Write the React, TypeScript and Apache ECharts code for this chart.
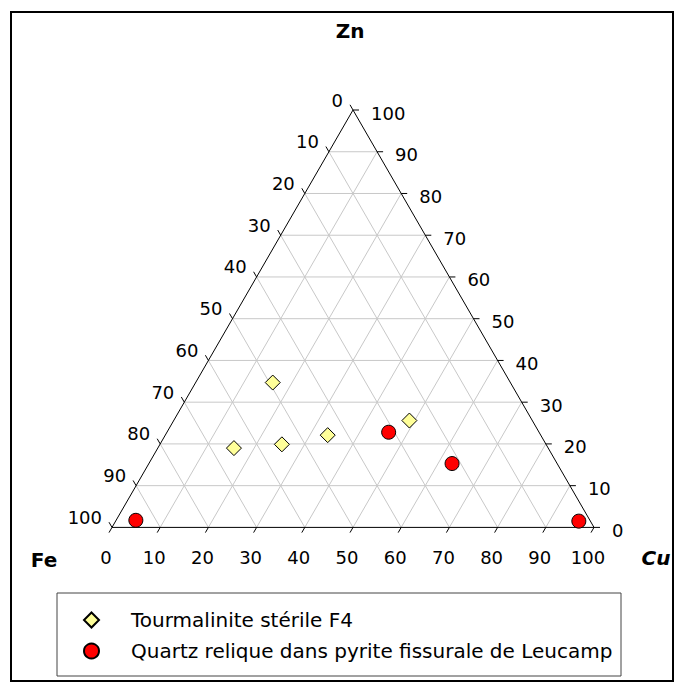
import React, { useEffect, useRef } from "react";
import * as echarts from "echarts";

// Tick values along every side (percent)
const TICK_VALUES = [0, 10, 20, 30, 40, 50, 60, 70, 80, 90, 100];
const GRID_VALUES = [10, 20, 30, 40, 50, 60, 70, 80, 90];

// Series 1: Tourmalinite stérile F4 (percent Fe, Cu, Zn)
const tourFe = [49.3, 65.2, 54.8, 44.2, 25.5];
const tourCu = [16.0, 15.8, 25.3, 33.7, 48.9];
const tourZn = [34.7, 19.0, 19.9, 22.1, 25.6];

// Series 2: Quartz relique dans pyrite fissurale de Leucamp
const quartzFe = [31.2, 21.8, 94.2, 2.4];
const quartzCu = [46.0, 62.9, 4.1, 96.1];
const quartzZn = [22.8, 15.3, 1.7, 1.5];

const SERIES_NAMES = [
  "Tourmalinite stérile F4",
  "Quartz relique dans pyrite fissurale de Leucamp",
];
const AXIS_TITLES = { top: "Zn", left: "Fe", right: "Cu" };

const H = Math.sqrt(3) / 2;
// ternary (Cu, Zn) -> cartesian (x, y); Fe = 100 - Cu - Zn
const toXY = (cu: number, zn: number) => [cu + zn / 2, zn * H];

const FONT = "'Comic Sans MS', 'DejaVu Sans', sans-serif";

export default function App() {
  const ref = useRef<HTMLDivElement>(null);
  useEffect(() => {
    if (!ref.current) return;
    const chart = echarts.init(ref.current, undefined, { renderer: "svg" });
    const lineStyle = { stroke: "#c8c8c8", lineWidth: 1 };
    const axisStyle = { stroke: "#000", lineWidth: 1 };
    const TL = 6;

    const title = (s: string, x: number, y: number, italic = false) => ({
      type: "text",
      x,
      y,
      z: 10,
      style: {
        text: s,
        fontFamily: FONT,
        fontSize: 20,
        fontWeight: "bold",
        fontStyle: italic ? "italic" : "normal",
        fill: "#000",
        align: "center",
        verticalAlign: "middle",
      },
    });

    const option: any = {
      animation: false,
      grid: { left: 112, top: 110, width: 482, height: 417.4 },
      xAxis: { type: "value", min: 0, max: 100, show: false },
      yAxis: { type: "value", min: 0, max: 100 * H, show: false },
      legend: {
        data: SERIES_NAMES,
        orient: "vertical",
        left: 83,
        top: 610,
        padding: 0,
        itemWidth: 15,
        itemHeight: 15,
        itemGap: 11,
        textStyle: {
          fontFamily: FONT,
          fontSize: 20,
          color: "#000",
          padding: [0, 0, 0, 27],
        },
      },
      graphic: [
        {
          type: "rect",
          shape: { x: 11, y: 12, width: 662, height: 669 },
          style: { fill: "none", stroke: "#000", lineWidth: 2 },
          silent: true,
        },
        {
          type: "rect",
          shape: { x: 57, y: 593, width: 564, height: 83 },
          style: { fill: "none", stroke: "#444", lineWidth: 1 },
          silent: true,
        },
        title(AXIS_TITLES.top, 350, 31),
        title(AXIS_TITLES.left, 44, 560),
        title(AXIS_TITLES.right, 656, 558, true),
      ],
      series: [
        {
          type: "custom",
          name: "grid",
          coordinateSystem: "cartesian2d",
          clip: false,
          silent: true,
          z: 1,
          data: GRID_VALUES.map((v) => [v, 0]),
          encode: { x: 0, y: 1 },
          renderItem: (params: any, api: any) => {
            const v = api.value(0);
            const c = (cu: number, zn: number) => api.coord(toXY(cu, zn));
            const seg = (a: number[], b: number[]) => ({
              type: "line",
              shape: { x1: a[0], y1: a[1], x2: b[0], y2: b[1] },
              style: lineStyle,
            });
            return {
              type: "group",
              children: [
                seg(c(0, v), c(100 - v, v)), // Zn const
                seg(c(v, 0), c(v, 100 - v)), // Cu const
                seg(c(100 - v, 0), c(0, 100 - v)), // Fe const
              ],
            };
          },
        },
        {
          type: "custom",
          name: "axes",
          coordinateSystem: "cartesian2d",
          clip: false,
          silent: true,
          z: 2,
          data: TICK_VALUES.map((v) => [v, 0]),
          encode: { x: 0, y: 1 },
          renderItem: (params: any, api: any) => {
            const v = api.value(0);
            const c = (cu: number, zn: number) => api.coord(toXY(cu, zn));
            const children: any[] = [];
            if (params.dataIndex === 0) {
              const A = c(0, 0), B = c(100, 0), C = c(0, 100);
              children.push({
                type: "polygon",
                shape: { points: [A, B, C] },
                style: { fill: "none", stroke: "#000", lineWidth: 1 },
              });
            }
            const txt = (x: number, y: number, s: string, align: string) => ({
              type: "text",
              x,
              y,
              style: {
                text: s,
                fontFamily: FONT,
                fontSize: 18,
                fill: "#000",
                align,
                verticalAlign: "middle",
              },
            });
            // bottom axis (Cu)
            const b = c(v, 0);
            children.push({
              type: "line",
              shape: { x1: b[0], y1: b[1], x2: b[0] - TL * 0.5, y2: b[1] + TL * H },
              style: axisStyle,
            });
            children.push(txt(b[0] - 6, b[1] + 30, String(v), "center"));
            // right axis (Zn)
            const r = c(100 - v, v);
            children.push({
              type: "line",
              shape: { x1: r[0], y1: r[1], x2: r[0] + TL, y2: r[1] },
              style: axisStyle,
            });
            children.push(txt(r[0] + 18, r[1] + 3, String(v), "left"));
            // left axis (Fe): Fe = v -> Zn = 100 - v on left edge
            const l = c(0, 100 - v);
            children.push({
              type: "line",
              shape: { x1: l[0], y1: l[1], x2: l[0] - TL * 0.5, y2: l[1] - TL * H },
              style: axisStyle,
            });
            children.push(txt(l[0] - 10, l[1] - 10, String(v), "right"));
            return { type: "group", children };
          },
        },
        {
          type: "scatter",
          name: SERIES_NAMES[0],
          symbol: "diamond",
          symbolSize: 15,
          z: 3,
          itemStyle: { color: "#ffff99", borderColor: "#000", borderWidth: 1, opacity: 1 },
          data: tourCu.map((cu, i) => toXY(cu, tourZn[i])),
        },
        {
          type: "scatter",
          name: SERIES_NAMES[1],
          symbol: "circle",
          symbolSize: 14,
          z: 3,
          itemStyle: { color: "#ff0000", borderColor: "#000", borderWidth: 1, opacity: 1 },
          data: quartzCu.map((cu, i) => toXY(cu, quartzZn[i])),
        },
      ],
    };
    // Fe arrays kept for reference (Fe = 100 - Cu - Zn)
    void tourFe;
    void quartzFe;
    chart.setOption(option);
    return () => chart.dispose();
  }, []);
  return (
    <div
      ref={ref}
      style={{ position: "absolute", left: 0, top: 0, width: 683, height: 691, background: "#fff" }}
    />
  );
}
